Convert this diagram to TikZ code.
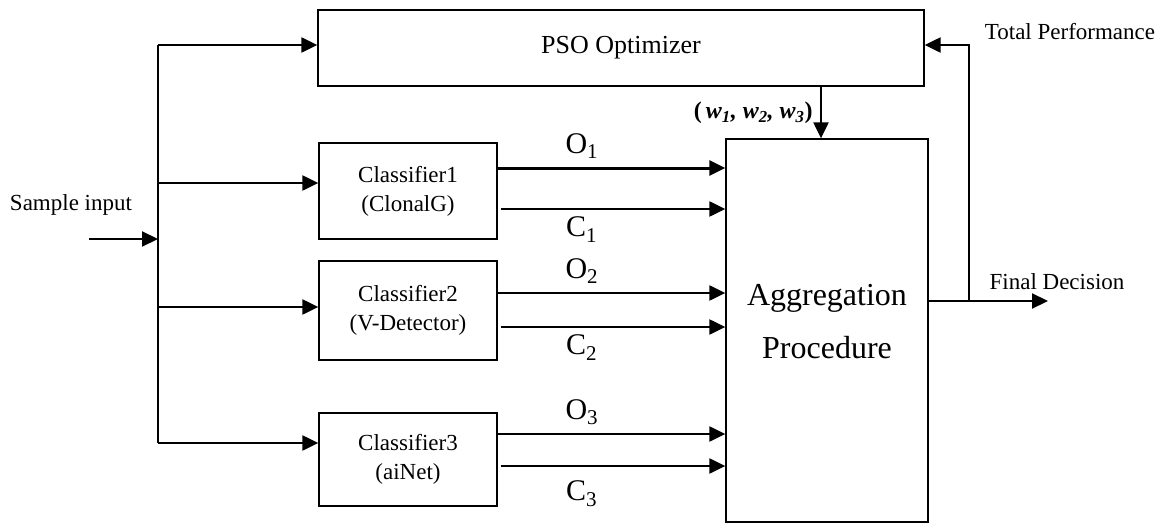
\documentclass[tikz,border=0pt]{standalone}
\usepackage{fontspec}
\setmainfont{Liberation Serif}
\usetikzlibrary{positioning, arrows.meta}

\begin{document}
\begin{tikzpicture}[x=1pt, y=-1pt, font=\fontsize{23}{29}\selectfont,
    block/.style={draw, line width=1.3pt, inner sep=0pt, align=center},
    flow/.style={-{Triangle[length=16pt, width=15pt]}, line width=2.2pt},
    sig/.style={font=\fontsize{30}{36}\selectfont, inner sep=2pt}]
    \useasboundingbox (0,0) rectangle (1163,530);

    % blocks
    \node[block, minimum width=606pt, minimum height=76pt] (pso) at (621,48)
      {\fontsize{26}{30}\selectfont PSO Optimizer};
    \node[block, minimum width=178pt, minimum height=96pt] (clsA) at (408,191)
      {Classifier1\\(ClonalG)};
    \node[block, minimum width=178pt, minimum height=99pt] (clsB) at (408,310.5)
      {Classifier2\\(V-Detector)};
    \node[block, minimum width=178pt, minimum height=93pt] (clsC) at (408,459.5)
      {Classifier3\\(aiNet)};
    \node[block, minimum width=202pt, minimum height=383pt,
          label={[yshift=9pt, align=center, font=\fontsize{32}{53}\selectfont]center:Aggregation\\Procedure}] (agg) at (827,330.5) {};

    % texts
    \node (sample) at (71,205) {Sample input};
    \node (total) at (1070,32) {Total Performance};
    \node (final) at (1057,282) {Final Decision};

    % input bus
    \coordinate (src) at (89,239);
    \coordinate (split) at (158,239);
    \coordinate (busTop) at (158,45);
    \coordinate (busBot) at (158,443);
    \draw[flow] (src) -- (split);
    \draw[line width=2.2pt] (busTop) -- (busBot);
    \draw[flow] (busTop) -- (busTop -| pso.west);
    \draw[flow] ([yshift=8pt]clsA.west -| busTop) -- ([yshift=8pt]clsA.west);
    \draw[flow] ([yshift=3.5pt]clsB.west -| busTop) -- ([yshift=3.5pt]clsB.west);
    \draw[flow] (busBot) -- (busBot -| clsC.west);

    % classifier outputs
    \draw[flow, line width=3pt] ([yshift=23pt]clsA.east) -- node[sig, above=6pt, pos=0.37]{O\textsubscript{1}} ([yshift=23pt]clsA.east -| agg.west);
    \draw[flow] ([xshift=3pt, yshift=-18pt]clsA.east) -- node[sig, below=5pt, pos=0.36]{C\textsubscript{1}} ([yshift=-18pt]clsA.east -| agg.west);
    \draw[flow] ([yshift=17.5pt]clsB.east) -- node[sig, above=6pt, pos=0.37]{O\textsubscript{2}} ([yshift=17.5pt]clsB.east -| agg.west);
    \draw[flow] ([xshift=3pt, yshift=-16.5pt]clsB.east) -- node[sig, below=5pt, pos=0.36]{C\textsubscript{2}} ([yshift=-16.5pt]clsB.east -| agg.west);
    \draw[flow] ([yshift=25.5pt]clsC.east) -- node[sig, above=6pt, pos=0.37]{O\textsubscript{3}} ([yshift=25.5pt]clsC.east -| agg.west);
    \draw[flow] ([xshift=3pt, yshift=-6.5pt]clsC.east) -- node[sig, below=12pt, pos=0.36]{C\textsubscript{3}} ([yshift=-6.5pt]clsC.east -| agg.west);

    % weights and feedback
    \draw[flow] ([xshift=200pt]pso.south) -- node[left=4pt, font=\fontsize{24}{28}\selectfont\bfseries]
      {(\,\itshape w\textsubscript{1}, w\textsubscript{2}, w\textsubscript{3}\upshape)} ([xshift=200pt]pso.south |- agg.north);
    \coordinate (fb) at (969,301);
    \coordinate (out) at (1048,301);
    \draw[flow] ([yshift=29.5pt]agg.east) -- (out);
    \draw[flow] (fb) |- ([yshift=3pt]pso.east);
  \end{tikzpicture}
\end{document}
